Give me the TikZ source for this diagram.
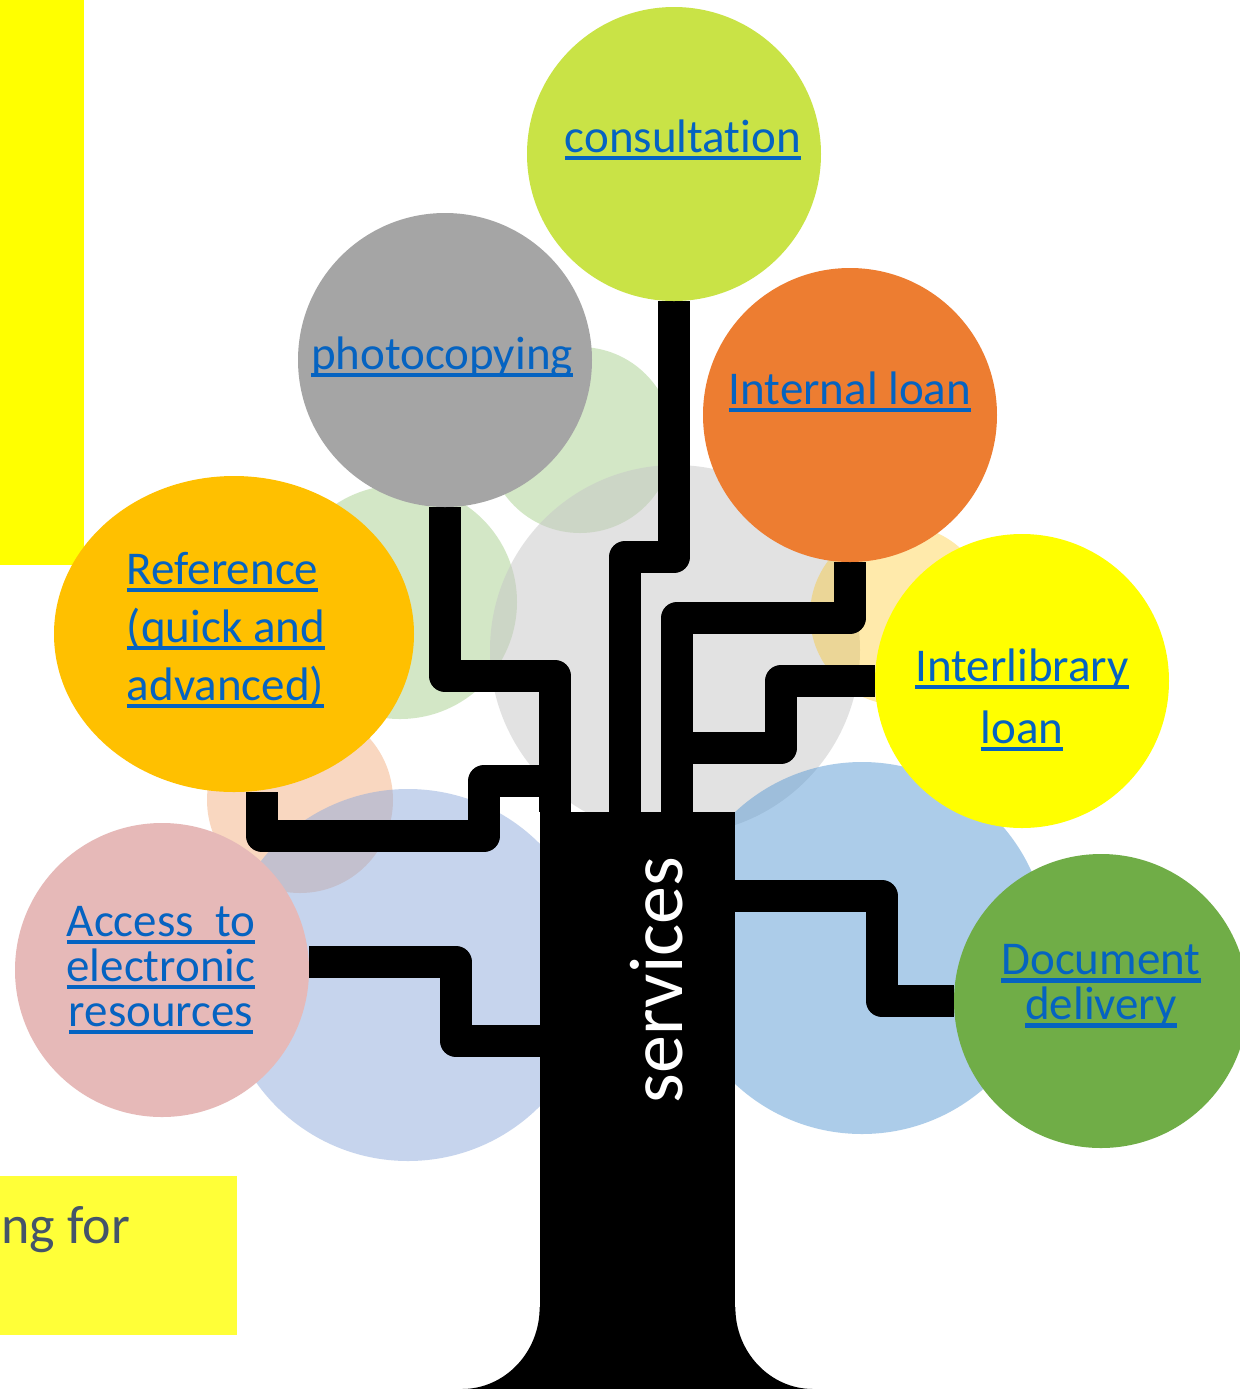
\documentclass[tikz,border=0pt]{standalone}
\usepackage{fontspec}
\setmainfont{Carlito}[Ligatures=NoCommon]
\usetikzlibrary{shapes.geometric}
\pgfdeclarelayer{bg}
\pgfsetlayers{bg,main}
\newcommand{\lnk}[1]{\setbox0\hbox{#1}\rlap{\rule[-4pt]{\wd0}{2.2pt}}\box0}
\definecolor{linkblue}{HTML}{0563C1}
\definecolor{slate}{HTML}{44546A}
\definecolor{pureyellow}{HTML}{FFFF00}
\definecolor{dotyellow}{HTML}{FFFF38}
\definecolor{consultgreen}{HTML}{C9E346}
\definecolor{photogray}{HTML}{A5A5A5}
\definecolor{loanorange}{HTML}{ED7D31}
\definecolor{refamber}{HTML}{FFC000}
\definecolor{accesspink}{HTML}{E6B9B8}
\definecolor{docgreen}{HTML}{70AD47}
\definecolor{hazegreen}{HTML}{A9D18E}
\definecolor{hazegray}{HTML}{C6C6C6}
\definecolor{hazepeach}{HTML}{FFC000}
\definecolor{hazesalmon}{HTML}{F4B183}
\definecolor{hazeblue}{HTML}{8FAADC}
\definecolor{hazesky}{HTML}{5B9BD5}
\tikzset{
  bubble/.style={circle,minimum size=147pt,inner sep=0pt},
  haze/.style={fill opacity=0.5},
  linktext/.style={text=linkblue,font=\fontsize{23.5}{29}\selectfont,inner sep=0pt,align=center},
  branch/.style={line width=16pt,line join=round},
}

\begin{document}
\begin{tikzpicture}[x=0.5pt,y=-0.5pt]
  \useasboundingbox (0,0) rectangle (1240,1389);
  % leaves
  \node[bubble,fill=consultgreen] (consult) at (674,154) {};
  \node[bubble,fill=photogray] (photo) at (445,360) {};
  \node[bubble,fill=loanorange] (iloan) at (850,415) {};
  \node[bubble,fill=pureyellow] (illoan) at (1022,681) {};
  \node[ellipse,minimum width=180pt,minimum height=158pt,inner sep=0pt,fill=refamber] (ref) at (234,634) {};
  \node[bubble,fill=accesspink] (access) at (162,970) {};
  \node[bubble,fill=docgreen] (doc) at (1101,1001) {};
  % trunk
  \node[fill=black,minimum width=97.5pt,minimum height=288.5pt,inner sep=0pt] (trunk) at (637.5,1100.5) {};
  \fill (trunk.west |- 0,1307) .. controls (540,1352) and (505,1389) .. (462,1389)
    -- (813,1389) .. controls (770,1389) and (735,1352) .. (trunk.east |- 0,1307) -- cycle;
  \node[rotate=90,text=white,font=\fontsize{38}{38}\selectfont,inner sep=0pt] (trunkT) at (657,980) {services};
  % labels
  \node[linktext] (consultT) at (683,140) {\lnk{consultation}};
  \node[linktext] (photoT) at (442,357) {\lnk{photocopying}};
  \node[linktext] (iloanT) at (850,392) {\lnk{Internal loan}};
  \node[linktext,font=\fontsize{23.5}{31}\selectfont] (illoanT) at (1022,700) {\lnk{Interlibrary}\\\lnk{loan}};
  \node[linktext,align=left] (refT) at (226,630) {\lnk{Reference}\\\lnk{(quick and}\\\lnk{advanced)}};
  \node[linktext,font=\fontsize{23.5}{22.5}\selectfont] (accessT) at (161,970) {\lnk{Access\ \ to}\\\lnk{electronic}\\\lnk{resources}};
  \node[linktext,font=\fontsize{23.5}{22.5}\selectfont] (docT) at (1101,986) {\lnk{Document}\\\lnk{delivery}};
  \begin{pgfonlayer}{bg}
    \fill[white] (0,0) rectangle (1240,1389);
    \fill[pureyellow] (0,0) rectangle (84,565);
    \fill[dotyellow] (0,1176) rectangle (237,1335);
    \node[anchor=base west,inner sep=0pt,text=slate,font=\fontsize{27}{27}\selectfont] (cutT) at (1,1243) {ng for};
    % haze behind the crown
    \fill[hazegreen,haze] (580,440) circle[radius=93];
    \fill[hazegreen,haze] (400,602) circle[radius=117];
    \fill[hazegray,haze] (675,650) circle[radius=185];
    \fill[hazepeach,haze,fill opacity=0.33] (900,615) circle[radius=90];
    \fill[hazesalmon,haze] (300,800) circle[radius=93];
    \fill[hazeblue,haze] (408,975) circle[radius=186];
    \fill[hazesky,haze] (862,948) circle[radius=186];
    % branches
    \draw[branch] (consult.south) |- (625,557) -- (625,0 |- trunk.north);
    \draw[branch] (photo.south) |- (555,676) -- (555,0 |- trunk.north);
    \draw[branch] ([xshift=14pt]ref.south) |- (484,836) |- (555,781);
    \draw[branch] (iloan.south) |- (677,618) -- (677,0 |- trunk.north);
    \draw[branch] (illoan.west) -| (781,748) -- (677,748);
    \draw[branch] ([yshift=4pt]access.east) -| (456,1041) -- (trunk.west |- 0,1041);
    \draw[branch] (trunk.east |- 0,896) -| (882,0 |- doc.west) -- (doc.west);
  \end{pgfonlayer}
\end{tikzpicture}
\end{document}
